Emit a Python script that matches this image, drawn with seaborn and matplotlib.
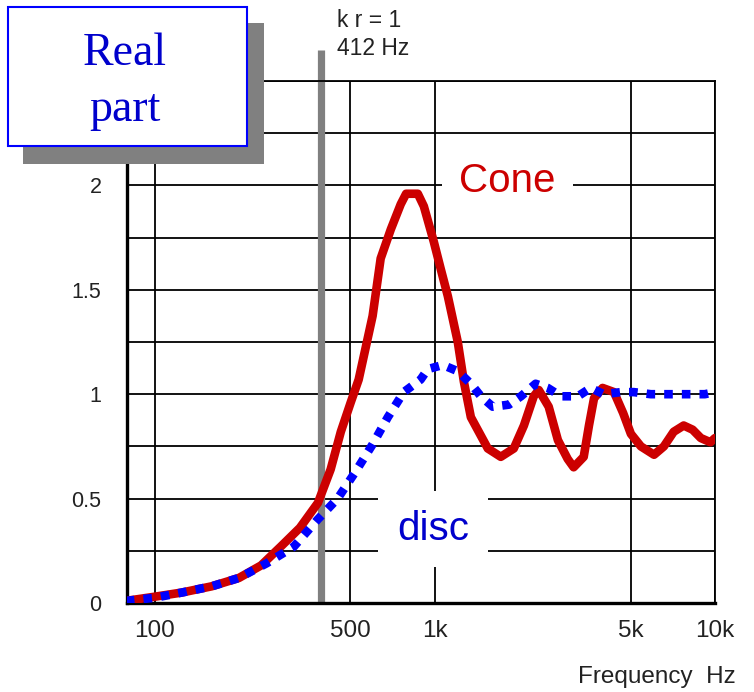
import numpy as np
import pandas as pd
import seaborn as sns
import matplotlib
matplotlib.use("Agg")
import matplotlib.pyplot as plt
from matplotlib.patches import Rectangle

# ---------------- data ----------------
cone_freq = [79, 100, 125, 160, 200, 240, 282, 330, 383, 425, 462, 501, 535, 600, 641,
             697, 756, 790, 870, 914, 992, 1050, 1113, 1208, 1270, 1345, 1546, 1720,
             1914, 2080, 2255, 2350, 2550, 2750, 2980, 3130, 3400, 3550, 3700, 3970,
             4360, 4700, 5010, 5440, 6060, 6570, 7120, 7730, 8320, 8900, 9630, 10000]
cone_real = [0.01, 0.03, 0.05, 0.08, 0.12, 0.18, 0.27, 0.36, 0.48, 0.64, 0.82, 0.96,
             1.07, 1.375, 1.65, 1.79, 1.91, 1.96, 1.96, 1.90, 1.73, 1.60, 1.47, 1.25,
             1.06, 0.89, 0.74, 0.70, 0.74, 0.85, 0.99, 1.02, 0.94, 0.78, 0.69, 0.65,
             0.70, 0.85, 0.98, 1.03, 1.01, 0.91, 0.81, 0.75, 0.71, 0.75, 0.82, 0.85,
             0.83, 0.79, 0.77, 0.79]

disc_freq = [79, 100, 125, 160, 200, 251, 314, 382, 450, 522, 600, 680, 775, 890, 944,
             1068, 1208, 1345, 1460, 1610, 1840, 2030, 2290, 2530, 2820, 3240, 3600,
             4010, 4620, 5130, 5900, 6700, 7500, 8400, 9200, 10000]
disc_real = [0.01, 0.025, 0.05, 0.08, 0.12, 0.19, 0.27, 0.40, 0.50, 0.63, 0.76, 0.89,
             1.01, 1.07, 1.12, 1.14, 1.11, 1.05, 0.99, 0.94, 0.95, 0.99, 1.05, 1.03,
             0.99, 0.99, 1.03, 1.00, 1.01, 1.01, 1.00, 1.00, 1.00, 1.00, 1.00, 1.01]

kr_freq = 391          # position of the k r = 1 marker as drawn
x_ticks = [100, 500, 1000, 5000, 10000]
x_tick_labels = ["100", "500", "1k", "5k", "10k"]
y_ticks = [0, 0.5, 1, 1.5, 2]
y_tick_labels = ["0", "0.5", "1", "1.5", "2"]

cone_df = pd.DataFrame({"freq": cone_freq, "real": cone_real})
disc_df = pd.DataFrame({"freq": disc_freq, "real": disc_real})

# ---------------- figure ----------------
sns.set_style("white")
plt.rcParams["font.family"] = ["Liberation Sans", "DejaVu Sans"]

W, H = 754, 692
fig = plt.figure(figsize=(W / 100, H / 100), dpi=100)
L, R, B, T = 126.5, 715, 603, 81
ax = fig.add_axes([L / W, (H - B) / H, (R - L) / W, (B - T) / H])

ax.set_xscale("log")
ax.set_xlim(79.4, 10000)
ax.set_ylim(0, 2.5)

# grid
ax.set_axisbelow(True)
for yv in np.arange(0.25, 2.51, 0.25):
    ax.axhline(yv, color="black", lw=1.3, zorder=0.5)
for xv in x_ticks:
    ax.axvline(xv, color="black", lw=1.3, zorder=0.5)

# k r = 1 marker
ax.plot([kr_freq, kr_freq], [0, 2.65], color="#808080", lw=5.2,
        solid_capstyle="butt", clip_on=False, zorder=1)

sns.lineplot(data=cone_df, x="freq", y="real", ax=ax, color="#CC0000", lw=6.2,
             sort=True, estimator=None, zorder=3)
sns.lineplot(data=disc_df, x="freq", y="real", ax=ax, color="#0000FF", lw=6.2,
             linestyle=(0, (1, 1.05)), sort=True, estimator=None, zorder=4)

ax.set_xticks(x_ticks)
ax.set_xticklabels(x_tick_labels, fontsize=17.5, color="#222222")
ax.xaxis.set_minor_locator(matplotlib.ticker.NullLocator())
ax.set_yticks(y_ticks)
ax.set_yticklabels(y_tick_labels, fontsize=15.5, color="#222222")
ax.tick_params(axis="both", length=0)
ax.tick_params(axis="x", pad=12)
ax.tick_params(axis="y", pad=18)

for side in ["left", "bottom"]:
    ax.spines[side].set_linewidth(2.4)
    ax.spines[side].set_color("black")
for side in ["top", "right"]:
    ax.spines[side].set_linewidth(1.3)
    ax.spines[side].set_color("black")

ax.set_ylabel("")
ax.set_xlabel("Frequency  Hz", fontsize=17.5, color="#222222", ha="right", va="baseline")
ax.xaxis.set_label_coords((736 - L) / (R - L), -(683 - B) / (B - T))

# curve labels with white boxes
ax.text(1818, 2.02, "Cone", color="#CC0000", fontsize=29, ha="center", va="center",
        bbox=dict(boxstyle="square,pad=0.42", fc="white", ec="none"), zorder=5)
ax.text(986, 0.355, "disc", color="#0000CC", fontsize=29, ha="center", va="center",
        bbox=dict(boxstyle="square,pad=0.48", fc="white", ec="none"), zorder=5)

# k r = 1 annotation
fig.text(337 / W, 1 - 27 / H, "k r = 1", fontsize=16.5, color="#222222",
         ha="left", va="baseline")
fig.text(337 / W, 1 - 55 / H, "412 Hz", fontsize=16.5, color="#222222",
         ha="left", va="baseline")

# "Real part" box with shadow
def fr(x0, y0, x1, y1, **kw):
    return Rectangle((x0 / W, 1 - y1 / H), (x1 - x0) / W, (y1 - y0) / H,
                     transform=fig.transFigure, **kw)

fig.add_artist(fr(23, 23, 264, 164, fc="#808080", ec="none", zorder=10))
fig.add_artist(fr(8, 7, 247, 146, fc="white", ec="#0000FF", lw=1.5, zorder=11))
fig.text(125 / W, 1 - 65 / H, "Real", fontsize=33, color="#0000CC",
         family="Liberation Serif", ha="center", va="baseline", zorder=12)
fig.text(125 / W, 1 - 121 / H, "part", fontsize=33, color="#0000CC",
         family="Liberation Serif", ha="center", va="baseline", zorder=12)

fig.savefig("out.png", dpi=100)
